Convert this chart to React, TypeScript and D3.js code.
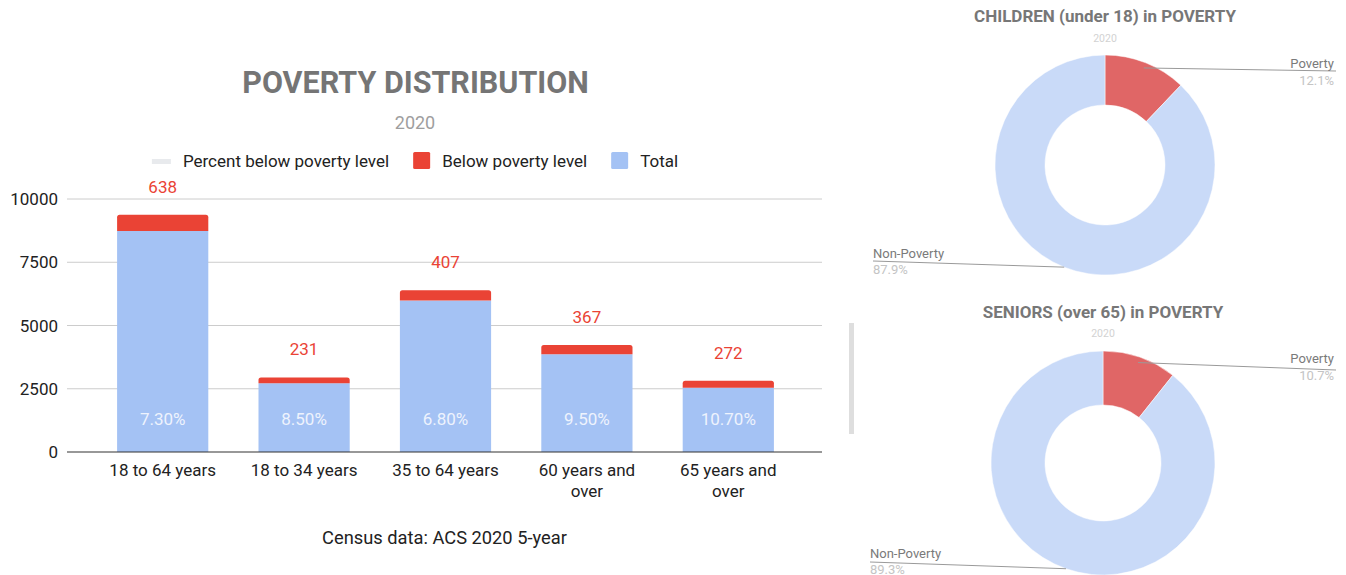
import React, { useEffect, useRef } from "react";
import * as d3 from "d3";

const categories = ["18 to 64 years", "18 to 34 years", "35 to 64 years", "60 years and over", "65 years and over"];
const totalValues = [8740, 2718, 5985, 3863, 2542];
const belowValues = [638, 231, 407, 367, 272];
const percentValues = [7.3, 8.5, 6.8, 9.5, 10.7];
const yTicks = [0, 2500, 5000, 7500, 10000];
const legendLabels = ["Percent below poverty level", "Below poverty level", "Total"];
const childrenShares = [
  { label: "Poverty", value: 12.1 },
  { label: "Non-Poverty", value: 87.9 },
];
const seniorShares = [
  { label: "Poverty", value: 10.7 },
  { label: "Non-Poverty", value: 89.3 },
];

const FONT = "Roboto, Arial, sans-serif";
const BLUE = "#a4c2f4";
const RED = "#ea4335";
const GREYSW = "#e8eaed";
const DONUT_RED = "#e06666";
const DONUT_BLUE = "#c9daf8";

type Sel = d3.Selection<SVGSVGElement, unknown, null, undefined>;

function drawBars(svg: Sel) {
  const g = svg.append("g");
  const x = d3.scaleBand<string>().domain(categories).range([92, 799]).paddingInner(0.355).paddingOuter(0.1775);
  const y = d3.scaleLinear().domain([0, 10000]).range([452, 199]);

  // title
  g.append("text").attr("x", 415.5).attr("y", 82).attr("text-anchor", "middle").attr("dominant-baseline", "central")
    .attr("font-family", FONT).attr("font-weight", "bold").attr("font-size", 30.5).attr("fill", "#757575")
    .text("POVERTY DISTRIBUTION");
  g.append("text").attr("x", 415).attr("y", 122).attr("text-anchor", "middle").attr("dominant-baseline", "central")
    .attr("font-family", FONT).attr("font-size", 18).attr("fill", "#9e9e9e").text("2020");

  // legend
  const lg = g.append("g");
  const colors = [GREYSW, RED, BLUE];
  let cx = 0;
  legendLabels.forEach((lab, i) => {
    if (i === 0) {
      lg.append("rect").attr("x", cx).attr("y", 159).attr("width", 19).attr("height", 5).attr("fill", colors[i]);
      cx += 31;
    } else {
      lg.append("rect").attr("x", cx).attr("y", 152).attr("width", 17).attr("height", 17).attr("rx", 1.5).attr("fill", colors[i]);
      cx += 29;
    }
    const t = lg.append("text").attr("x", cx).attr("y", 161).attr("dominant-baseline", "central")
      .attr("font-family", FONT).attr("font-size", 17).attr("fill", "#222").text(lab);
    const w = (t.node() as SVGTextElement).getComputedTextLength();
    cx += w + 24;
  });
  const lw = cx - 24;
  lg.attr("transform", `translate(${415 - lw / 2},0)`);

  // grid
  g.selectAll(".grid").data(yTicks.filter((d) => d !== 0)).enter().append("line")
    .attr("x1", 67).attr("x2", 822).attr("y1", (d) => y(d)).attr("y2", (d) => y(d))
    .attr("stroke", "#cccccc").attr("stroke-width", 1);

  // y labels
  g.selectAll(".ylab").data(yTicks).enter().append("text")
    .attr("x", 58).attr("y", (d) => y(d)).attr("text-anchor", "end").attr("dominant-baseline", "central")
    .attr("font-family", FONT).attr("font-size", 17).attr("fill", "#222").text((d) => String(d));

  // stacked bars
  const rows = categories.map((c, i) => ({ cat: c, total: totalValues[i], below: belowValues[i], pct: percentValues[i] }));
  const stack = d3.stack<any>().keys(["total", "below"]);
  const series = stack(rows);
  const bw = x.bandwidth();
  const blue = series[0];
  g.selectAll(".blue").data(blue).enter().append("rect")
    .attr("x", (d: any) => x(d.data.cat)!).attr("width", bw)
    .attr("y", (d: any) => y(d[1])).attr("height", (d: any) => y(d[0]) - y(d[1])).attr("fill", BLUE);
  const red = series[1];
  const rr = 2.5;
  g.selectAll(".red").data(red).enter().append("path")
    .attr("d", (d: any) => {
      const x0 = x(d.data.cat)!;
      const x1 = x0 + bw;
      const yb = y(d[0]);
      const yt = y(d[1]);
      return `M${x0},${yb}V${yt + rr}Q${x0},${yt} ${x0 + rr},${yt}H${x1 - rr}Q${x1},${yt} ${x1},${yt + rr}V${yb}Z`;
    })
    .attr("fill", RED);

  // value labels
  g.selectAll(".vl").data(red).enter().append("text")
    .attr("x", (d: any) => x(d.data.cat)! + bw / 2).attr("y", (d: any) => y(d[1]) - 28)
    .attr("text-anchor", "middle").attr("dominant-baseline", "central")
    .attr("font-family", FONT).attr("font-size", 17).attr("fill", RED).text((d: any) => String(d.data.below));

  // percent labels
  g.selectAll(".pl").data(rows).enter().append("text")
    .attr("x", (d) => x(d.cat)! + bw / 2).attr("y", 419)
    .attr("text-anchor", "middle").attr("dominant-baseline", "central")
    .attr("font-family", FONT).attr("font-size", 17).attr("fill", "#eef3fd").text((d) => d.pct.toFixed(2) + "%");

  // baseline
  g.append("line").attr("x1", 67).attr("x2", 822).attr("y1", y(0)).attr("y2", y(0)).attr("stroke", "#333").attr("stroke-width", 1.2);

  // x labels with wrapping
  categories.forEach((c) => {
    const t = g.append("text").attr("text-anchor", "middle").attr("font-family", FONT).attr("font-size", 17).attr("fill", "#222");
    const words = c.split(" ");
    const lines: string[] = [];
    let cur: string[] = [];
    const probe = g.append("text").attr("font-family", FONT).attr("font-size", 17);
    words.forEach((wd) => {
      const trial = [...cur, wd].join(" ");
      probe.text(trial);
      if ((probe.node() as SVGTextElement).getComputedTextLength() > 122 && cur.length) {
        lines.push(cur.join(" "));
        cur = [wd];
      } else cur.push(wd);
    });
    lines.push(cur.join(" "));
    probe.remove();
    lines.forEach((ln, i) => {
      t.append("tspan").attr("x", x(c)! + bw / 2).attr("y", 470 + i * 21).attr("dominant-baseline", "central").text(ln);
    });
  });

  // footer
  g.append("text").attr("x", 444.5).attr("y", 537).attr("text-anchor", "middle").attr("dominant-baseline", "central")
    .attr("font-family", FONT).attr("font-size", 18.3).attr("fill", "#222").text("Census data: ACS 2020 5-year");
}

interface DonutOpts {
  data: { label: string; value: number }[];
  title: string;
  cx: number;
  cy: number;
  R: number;
  r: number;
  titleY: number;
  subY: number;
  povY: number;
  povLineY: number;
  nonX: number;
  nonY: number;
  nonLineY: number;
}

function drawDonut(svg: Sel, o: DonutOpts) {
  const g = svg.append("g");
  g.append("text").attr("x", o.cx).attr("y", o.titleY).attr("text-anchor", "middle").attr("dominant-baseline", "central")
    .attr("font-family", FONT).attr("font-weight", "bold").attr("font-size", 17).attr("fill", "#777").text(o.title);
  g.append("text").attr("x", o.cx).attr("y", o.subY).attr("text-anchor", "middle").attr("dominant-baseline", "central")
    .attr("font-family", FONT).attr("font-size", 10.5).attr("fill", "#d2d2d2").text("2020");

  const pie = d3.pie<{ label: string; value: number }>().sort(null).value((d) => d.value);
  const arcs = pie(o.data);
  const arc = d3.arc<d3.PieArcDatum<{ label: string; value: number }>>().innerRadius(o.r).outerRadius(o.R);
  const cg = g.append("g").attr("transform", `translate(${o.cx},${o.cy})`);
  cg.selectAll("path").data(arcs).enter().append("path").attr("d", arc as any)
    .attr("fill", (d) => (d.data.label === "Poverty" ? DONUT_RED : DONUT_BLUE))
    .attr("stroke", "#fff").attr("stroke-width", 0.5);

  arcs.forEach((a) => {
    const mid = (a.startAngle + a.endAngle) / 2;
    const isPov = a.data.label === "Poverty";
    const rad = isPov ? o.R * 0.95 : o.R;
    const px = o.cx + rad * Math.sin(mid);
    const py = o.cy - rad * Math.cos(mid);
    const pct = a.data.value.toFixed(1) + "%";
    if (isPov) {
      g.append("line").attr("x1", px).attr("y1", py).attr("x2", 1336).attr("y2", o.povLineY).attr("stroke", "#9a9a9a").attr("stroke-width", 1);
      g.append("text").attr("x", 1334).attr("y", o.povY).attr("text-anchor", "end").attr("dominant-baseline", "central")
        .attr("font-family", FONT).attr("font-size", 13).attr("fill", "#7a7a7a").text(a.data.label);
      g.append("text").attr("x", 1334).attr("y", o.povY + 17).attr("text-anchor", "end").attr("dominant-baseline", "central")
        .attr("font-family", FONT).attr("font-size", 13).attr("fill", "#c4c4c4").text(pct);
    } else {
      g.append("line").attr("x1", o.nonX).attr("y1", o.nonLineY).attr("x2", px).attr("y2", py).attr("stroke", "#9a9a9a").attr("stroke-width", 1);
      g.append("text").attr("x", o.nonX).attr("y", o.nonY).attr("dominant-baseline", "central")
        .attr("font-family", FONT).attr("font-size", 13).attr("fill", "#7a7a7a").text(a.data.label);
      g.append("text").attr("x", o.nonX).attr("y", o.nonY + 16).attr("dominant-baseline", "central")
        .attr("font-family", FONT).attr("font-size", 13).attr("fill", "#c4c4c4").text(pct);
    }
  });
}

export default function App() {
  const ref = useRef<SVGSVGElement>(null);
  useEffect(() => {
    const svg = d3.select(ref.current!) as Sel;
    svg.selectAll("*").remove();
    drawBars(svg);
    drawDonut(svg, {
      data: childrenShares, title: "CHILDREN (under 18) in POVERTY",
      cx: 1105, cy: 165, R: 110, r: 60, titleY: 16, subY: 38,
      povY: 63, povLineY: 71, nonX: 873, nonY: 253, nonLineY: 261,
    });
    drawDonut(svg, {
      data: seniorShares, title: "SENIORS (over 65) in POVERTY",
      cx: 1103, cy: 463, R: 112, r: 58, titleY: 312, subY: 333,
      povY: 358, povLineY: 370, nonX: 870, nonY: 553, nonLineY: 562,
    });
    svg.append("rect").attr("x", 849).attr("y", 323).attr("width", 5).attr("height", 111).attr("fill", "#dedede");
  }, []);
  return (
    <svg ref={ref} width={1346} height={575} style={{ position: "absolute", left: 0, top: 0, background: "#fff", display: "block" }} />
  );
}
